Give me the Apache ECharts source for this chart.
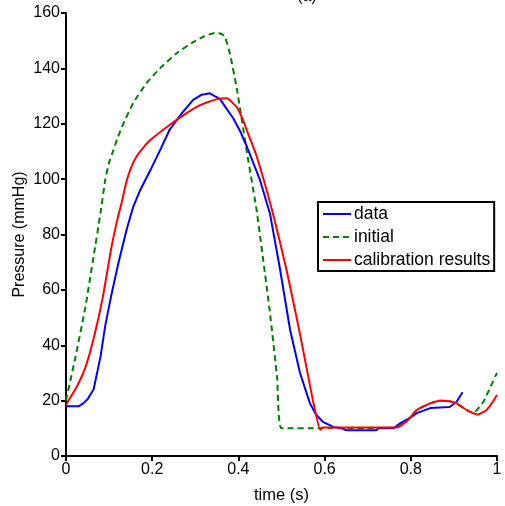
<!DOCTYPE html>
<html>
<head>
<meta charset="utf-8">
<script src="https://cdn.jsdelivr.net/npm/echarts@6/dist/echarts.min.js"></script>
<style>html,body{margin:0;padding:0;background:#fff;}#c{width:505px;height:506px;}</style>
</head>
<body>
<div id="c"></div>
<script>
const xTicks = [0, 0.2, 0.4, 0.6, 0.8, 1];
const yTicks = [0, 20, 40, 60, 80, 100, 120, 140, 160];

const dataT = [0,0.03,0.04,0.05,0.064,0.08,0.091,0.105,0.122,0.13,0.141,0.156,0.172,0.195,0.22,0.241,0.27,0.295,0.315,0.334,0.345,0.357,0.37,0.388,0.405,0.42,0.45,0.473,0.496,0.52,0.543,0.566,0.58,0.596,0.62,0.64,0.65,0.72,0.725,0.76,0.775,0.795,0.814,0.845,0.89,0.906,0.92];
const dataP = [18,18,19,20.5,24,35.8,47,58,70,75,82,90,96,103,111,118,124,128.6,130.5,131,130,129,126,122,117,111.6,99.7,87.7,68,45.5,30,19,15,12.3,10.5,10,9.3,9.3,10,10,11.8,13.5,15.5,17.3,17.7,19.5,23];

const initT = [0,0.022,0.045,0.064,0.08,0.091,0.1,0.109,0.12,0.133,0.156,0.187,0.218,0.257,0.295,0.32,0.345,0.36,0.369,0.38,0.396,0.42,0.443,0.473,0.49,0.5,0.59,0.767,0.79,0.814,0.845,0.868,0.89,0.906,0.93,0.945,0.968,0.985,1];
const initP = [20,35.8,53.8,72,87.7,99.7,106,110,115,120,127.5,134.7,140,145.5,149.5,151.5,152.8,152.5,151.3,145.5,133,109.5,88,52,28,10,10,10.3,12.5,16.6,19,20,19.8,19,16.6,15.5,19.5,25,30];

const calT = [0,0.025,0.045,0.065,0.085,0.105,0.12,0.13,0.14,0.152,0.165,0.18,0.195,0.234,0.272,0.311,0.35,0.373,0.396,0.411,0.422,0.443,0.48,0.512,0.543,0.573,0.59,0.595,0.767,0.79,0.814,0.845,0.868,0.89,0.906,0.93,0.956,0.975,0.99,1];
const calP = [18.5,25,32,43,57,75,86,92,99,104.5,108.5,111.5,114,118.8,123,126.7,128.9,129.2,126,121.3,116.6,108,87.7,67,44,20,9.4,10.3,10.3,12.5,16.6,19,20,19.8,19,16.6,15,16.5,19.5,22];

const zip = (a, b) => a.map((v, i) => [v, b[i]]);
const font = 'Liberation Sans';

const chart = echarts.init(document.getElementById('c'), null, {renderer: 'canvas'});
chart.setOption({
  animation: false,
  backgroundColor: '#fff',
  title: {
    text: '(a)', left: 302, top: -16, textAlign: 'center',
    textStyle: {fontFamily: font, fontSize: 16, fontWeight: 'normal', color: '#000'}
  },
  grid: {left: 66, right: 8, top: 13, bottom: 50, containLabel: false, outerBoundsMode: 'none'},
  legend: {
    orient: 'vertical', left: 318, top: 202,
    borderColor: '#000', borderWidth: 2, padding: [2, 4, 1, 4],
    itemWidth: 28, itemHeight: 14, itemGap: 3,
    itemStyle: {opacity: 0},
    textStyle: {fontFamily: font, fontSize: 17.5, lineHeight: 20, color: '#000', padding: [0, 0, 0, -2]},
    data: ['data', 'initial', 'calibration results']
  },
  xAxis: {
    type: 'value', min: 0, max: 1, interval: 0.2,
    name: 'time (s)', nameLocation: 'middle', nameGap: 31, nameMoveOverlap: false,
    nameTextStyle: {fontFamily: font, fontSize: 16.5, color: '#000'},
    axisLine: {onZero: false, lineStyle: {color: '#000', width: 2}},
    axisTick: {show: true, length: 5, lineStyle: {color: '#000', width: 2}},
    axisLabel: {fontFamily: font, fontSize: 16, color: '#000', margin: 6,
      formatter: v => xTicks.includes(+v.toFixed(1)) ? String(+v.toFixed(1)) : ''},
    splitLine: {show: false}
  },
  yAxis: {
    type: 'value', min: 0, max: 160, interval: 20,
    name: 'Pressure (mmHg)', nameLocation: 'middle', nameGap: 38, nameMoveOverlap: false,
    nameTextStyle: {fontFamily: font, fontSize: 16, color: '#000'},
    axisLine: {show: true, onZero: false, lineStyle: {color: '#000', width: 2}},
    axisTick: {show: true, length: 5, lineStyle: {color: '#000', width: 2}},
    axisLabel: {fontFamily: font, fontSize: 16, color: '#000', margin: 6,
      formatter: v => yTicks.includes(v) ? String(v) : ''},
    splitLine: {show: false}
  },
  series: [
    {name: 'data', type: 'line', data: zip(dataT, dataP), symbol: 'none', smooth: false,
      lineStyle: {color: '#0000ff', width: 2}, itemStyle: {color: '#0000ff'}, z: 3},
    {name: 'initial', type: 'line', data: zip(initT, initP), symbol: 'none', smooth: 0.15,
      lineStyle: {color: '#008000', width: 2, type: [6, 4]}, itemStyle: {color: '#008000'}, z: 2},
    {name: 'calibration results', type: 'line', data: zip(calT, calP), symbol: 'none', smooth: 0.15,
      lineStyle: {color: '#ff0000', width: 2}, itemStyle: {color: '#ff0000'}, z: 4}
  ]
});
</script>
</body>
</html>
